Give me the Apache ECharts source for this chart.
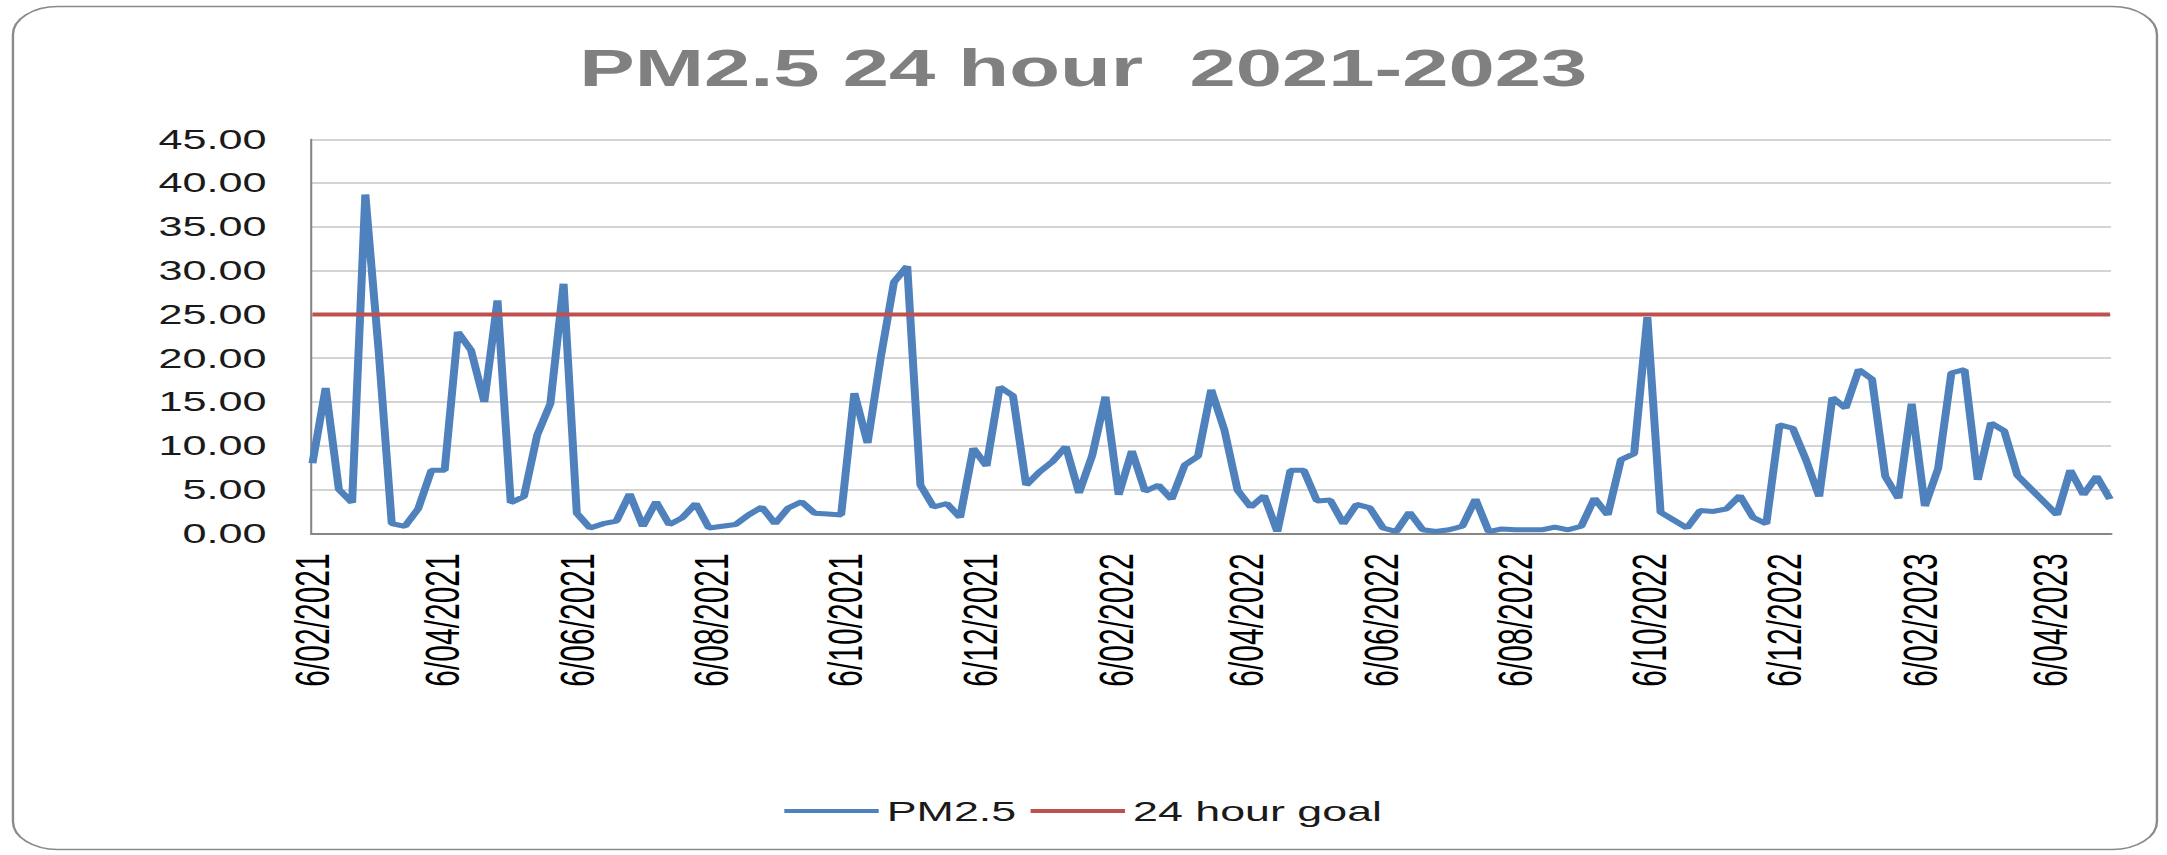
<!DOCTYPE html>
<html>
<head>
    <meta charset="utf-8">
    <title>PM2.5 24 hour 2021-2023</title>
    <script src="https://cdn.jsdelivr.net/npm/echarts@6/dist/echarts.min.js"></script>
    <style>
        html, body {
            margin: 0;
            padding: 0;
            background: #fff;
            overflow: hidden;
        }
        /* the source picture is stretched sideways, so draw narrower and stretch the same way */
        #chart {
            width: 1354.4px;
            height: 855px;
            transform: scaleX(1.6);
            transform-origin: 0 0;
        }
    </style>
</head>
<body>
    <div id="chart"></div>

    <script>
        // 1-in-6 day sampling, first sample 6/02/2021, last 3/05/2023
        const sampleStart = '2021-02-06';
        const sampleStepDays = 6;
        const axisEnd = '2023-05-03';

        // PM2.5 24 hour averages, one per sample day
        const pm25 = [
            8.0, 16.6, 5.0, 3.5, 38.7, 21.0, 1.1, 0.8, 2.8, 7.2,
            7.2, 23.0, 20.9, 15.0, 26.6, 3.5, 4.2, 11.2, 14.8, 28.5,
            2.3, 0.6, 1.1, 1.4, 4.5, 0.8, 3.6, 1.0, 1.8, 3.4,
            0.6, 0.8, 1.0, 2.1, 3.0, 1.1, 2.9, 3.6, 2.3, 2.2,
            2.1, 16.0, 10.3, 20.1, 28.7, 30.5, 5.5, 3.0, 3.4, 1.8,
            9.7, 7.7, 16.7, 15.7, 5.5, 7.0, 8.2, 9.9, 4.6, 8.9,
            15.6, 4.4, 9.4, 4.8, 5.5, 3.9, 7.8, 8.8, 16.4, 11.8,
            4.9, 3.0, 4.3, 0.2, 7.2, 7.2, 3.7, 3.8, 1.1, 3.3,
            2.9, 0.6, 0.2, 2.4, 0.4, 0.2, 0.4, 0.8, 3.9, 0.2,
            0.5, 0.4, 0.4, 0.4, 0.7, 0.4, 0.8, 4.0, 2.1, 8.4,
            9.1, 24.7, 2.4, 1.5, 0.6, 2.6, 2.5, 2.8, 4.3, 1.8,
            1.1, 12.4, 12.0, 8.4, 4.2, 15.5, 14.3, 18.7, 17.6, 6.5,
            4.0, 14.8, 3.1, 7.4, 18.3, 18.7, 6.1, 12.6, 11.7, 6.6,
            5.1, 3.6, 2.1, 7.2, 4.4, 6.5, 3.9
        ];
        const goalValue = 25;

        const yMin = 0, yMax = 45, yStep = 5;

        const DAY = 86400000;
        function toKey(t) {
            return new Date(t).toISOString().slice(0, 10);
        }
        function parseKey(s) {
            const p = s.split('-');
            return Date.UTC(+p[0], +p[1] - 1, +p[2]);
        }

        // date axis: one slot per day, like the spreadsheet's date axis
        const days = [];
        for (let t = parseKey(sampleStart); t <= parseKey(axisEnd); t += DAY) {
            days.push(toKey(t));
        }
        const sampleDates = pm25.map((_, i) => toKey(parseKey(sampleStart) + i * sampleStepDays * DAY));

        const chart = echarts.init(document.getElementById('chart'), null, { renderer: 'svg' });

        const labelFont = 'Liberation Sans, Arial, sans-serif';

        chart.setOption({
            animation: false,
            backgroundColor: '#fff',
            graphic: [{
                type: 'rect',
                shape: { x: 8.1, y: 6.5, width: 1340, height: 843, r: 28 },
                style: { fill: 'none', stroke: '#8a8a8a', lineWidth: 1.5 },
                z: -1
            }],
            title: {
                text: 'PM2.5 24 hour  2021-2023',
                left: 'center',
                top: 42,
                padding: 0,
                textStyle: {
                    fontFamily: labelFont,
                    fontSize: 52,
                    fontWeight: 'bold',
                    color: '#808080'
                }
            },
            legend: {
                data: ['PM2.5', '24 hour goal'],
                left: 'center',
                top: 792,
                icon: 'rect',
                itemWidth: 59,
                itemHeight: 4,
                itemGap: 9,
                textStyle: {
                    fontFamily: labelFont,
                    fontSize: 28,
                    color: '#1a1a1a'
                }
            },
            grid: {
                left: 194.6,
                right: 34.6,
                top: 139.3,
                bottom: 321.7
            },
            xAxis: {
                type: 'category',
                data: days,
                boundaryGap: true,
                axisLine: { lineStyle: { color: '#868686', width: 2 } },
                axisTick: { show: false },
                axisLabel: {
                    interval: (index, value) => {
                        const p = value.split('-');
                        return p[2] === '06' && (+p[1]) % 2 === 0;
                    },
                    formatter: value => {
                        const p = value.split('-');
                        return (+p[2]) + '/' + p[1] + '/' + p[0];
                    },
                    rotate: 90,
                    margin: 20,
                    fontFamily: labelFont,
                    fontSize: 30,
                    color: '#000'
                },
                splitLine: { show: false }
            },
            yAxis: {
                type: 'value',
                min: yMin,
                max: yMax,
                interval: yStep,
                axisLine: { show: true, lineStyle: { color: '#868686', width: 1.3 } },
                axisTick: { show: false },
                axisLabel: {
                    formatter: v => v.toFixed(2),
                    margin: 28,
                    fontFamily: labelFont,
                    fontSize: 27,
                    color: '#1a1a1a'
                },
                splitLine: { lineStyle: { color: '#c6c6c6', width: 1.7 } }
            },
            series: [
                {
                    name: 'PM2.5',
                    type: 'line',
                    data: sampleDates.map((d, i) => [d, pm25[i]]),
                    symbol: 'none',
                    lineStyle: { color: '#4f81bd', width: 5 },
                    itemStyle: { color: '#4f81bd' }
                },
                {
                    name: '24 hour goal',
                    type: 'line',
                    data: sampleDates.map(d => [d, goalValue]),
                    symbol: 'none',
                    lineStyle: { color: '#c0504d', width: 4 },
                    itemStyle: { color: '#c0504d' }
                }
            ]
        });

        window.addEventListener('resize', () => chart.resize());
    </script>
</body>
</html>
